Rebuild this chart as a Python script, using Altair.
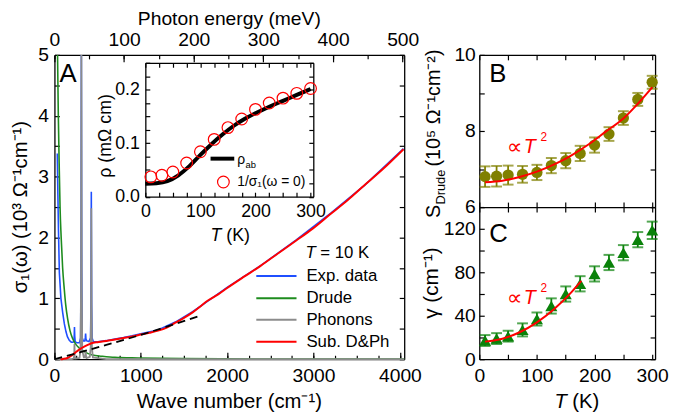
import altair as alt
import pandas as pd

# ---------------- data ----------------
# Panel A : sigma_1 (10^3 Ohm^-1 cm^-1) vs wave number (cm^-1), T = 10 K
exp_w = [33, 40, 47, 57, 75, 95, 115, 134, 150, 172, 195, 214, 224, 229, 232, 235, 240, 260, 290, 303,
         308, 312, 316, 321, 335, 352, 357, 361, 365, 375, 400, 418, 423, 427, 431, 436, 450, 500, 600, 700,
         800, 900, 1000, 1200, 1400, 1600, 1800, 2000, 2400, 2800, 3200, 3600, 4042]
exp_s = [3.38, 2.7, 2.1, 1.42, 1.0, 0.77, 0.58, 0.45, 0.37, 0.31, 0.28, 0.28, 0.29, 0.38, 0.53, 0.38, 0.29, 0.27, 0.27, 0.35,
         1.5, 5.0, 1.5, 0.35, 0.30, 0.30, 0.35, 0.42, 0.33, 0.30, 0.29, 0.35, 0.9, 2.75, 0.9, 0.35, 0.29, 0.285, 0.305, 0.33,
         0.355, 0.385, 0.42, 0.48, 0.61, 0.78, 0.98, 1.18, 1.55, 1.96, 2.40, 2.87, 3.46]

drude_w = [36, 45, 55, 65, 78, 95, 114, 130, 152, 180, 210, 250, 290, 350, 440, 550, 700, 970, 1500, 2000, 3000, 4050]
drude_s = [5.0, 4.0, 3.2, 2.5, 2.0, 1.5, 1.15, 0.9, 0.67, 0.47, 0.34, 0.24, 0.18, 0.12, 0.07, 0.05, 0.03, 0.02, 0.01, 0.006, 0.003, 0.002]

phon_w = [0, 200, 222, 229, 232, 235, 242, 290, 302, 308, 312, 316, 322, 340, 352, 357, 361, 365, 372,
          410, 420, 424, 427, 430, 434, 445, 600, 4050]
phon_s = [0, 0.0, 0.01, 0.06, 0.25, 0.06, 0.01, 0.02, 0.15, 1.2, 5.0, 1.2, 0.15, 0.03, 0.03, 0.06, 0.15, 0.06, 0.02,
          0.04, 0.2, 0.9, 2.48, 0.9, 0.2, 0.03, 0.0, 0.0]

sub_w = [70, 100, 150, 200, 250, 300, 350, 400, 450, 500, 600, 700, 800, 900, 1000, 1100, 1200, 1300, 1400, 1500,
         1600, 1700, 1773, 1900, 2000, 2200, 2383, 2600, 2800, 2994, 3200, 3400, 3566, 3800, 4042]
sub_s = [0.0, 0.005, 0.02, 0.06, 0.12, 0.17, 0.21, 0.245, 0.27, 0.28, 0.30, 0.325, 0.35, 0.375, 0.405, 0.435, 0.47, 0.52, 0.60, 0.68,
         0.77, 0.88, 0.96, 1.07, 1.17, 1.36, 1.53, 1.75, 1.95, 2.15, 2.39, 2.62, 2.83, 3.12, 3.45]

dash_w = [0, 300, 600, 1000, 1300, 1700]
dash_s = [0.0, 0.115, 0.235, 0.40, 0.535, 0.72]

# Inset : resistivity
rho_T = [0, 20, 40, 60, 80, 100, 120, 140, 160, 180, 200, 225, 250, 275, 300]
rho_v = [0.024, 0.025, 0.029, 0.040, 0.057, 0.078, 0.098, 0.116, 0.132, 0.145, 0.156, 0.168, 0.179, 0.190, 0.201]
inv_T = [10, 30, 50, 75, 100, 125, 150, 175, 200, 225, 250, 275, 300]
inv_v = [0.037, 0.040, 0.046, 0.063, 0.084, 0.107, 0.129, 0.145, 0.163, 0.175, 0.184, 0.193, 0.202]

# Panels B and C
T_pts = [10, 30, 50, 75, 100, 125, 150, 175, 200, 225, 250, 275, 300]
S_val = [6.80, 6.81, 6.84, 6.86, 6.91, 7.09, 7.22, 7.41, 7.63, 7.92, 8.34, 8.83, 9.28]
S_err = [0.27, 0.27, 0.25, 0.22, 0.20, 0.20, 0.20, 0.20, 0.20, 0.18, 0.18, 0.17, 0.17]
S_fit_T = [10, 40, 70, 100, 130, 160, 190, 220, 250, 280, 300]
S_fit_v = [6.65, 6.69, 6.79, 6.93, 7.12, 7.36, 7.65, 7.99, 8.33, 8.80, 9.15]
g_val = [17.2, 19.0, 21.2, 27.0, 37.0, 49.0, 60.0, 69.4, 78.5, 89.0, 98.0, 110.0, 118.6]
g_err = [5, 5, 5, 6, 6, 7, 7, 7, 7, 7, 7, 7, 8]
g_fit_T = [10, 40, 70, 100, 130, 160, 177]
g_fit_v = [16.2, 18.9, 24.8, 33.9, 46.2, 61.7, 72.0]

# tick labels / tick positions
wn_labels = [0, 1000, 2000, 3000, 4000]
wn_major = [0, 1000, 2000, 3000, 4000]
wn_minor = [250 * i for i in range(17)]
mev_labels = [0, 100, 200, 300, 400, 500]
mev_minor = [50 * i for i in range(11)]
sig_labels = [0, 1, 2, 3, 4, 5]
sig_ticks = [0.5 * i for i in range(11)]
in_T_labels = [0, 100, 200, 300]
in_T_ticks = [25 * i for i in range(13)]
in_r_labels = [0.0, 0.1, 0.2]
in_r_ticks = [0.025 * i for i in range(11)]
T_labels = [0, 100, 200, 300]
T_ticks = [50 * i for i in range(7)]
S_labels = [6, 8, 10]
S_ticks = [6, 7, 8, 9, 10]
g_labels = [0, 40, 80, 120]
g_ticks = [20 * i for i in range(8)]

# ---------------- layout ----------------
W, H = 669, 408
FONT = "Liberation Sans"
A_X, A_Y = [47, 401], [353, 45]
A_XD, A_YD = [0, 4050], [0, 5]
MEV_D = [0, 4050 / 8.0655]
I_X, I_Y = [139, 309], [188.5, 53]
I_XD, I_YD = [0, 305], [0, 0.25]
B_X, B_Y = [477, 654.9], [199, 45]
T_D, B_YD = [0, 305], [6, 10]
C_Y, C_YD = [353, 199], [0, 140]

BLUE, GREEN, GRAY, RED = "#1f4fff", "#1e8c1e", "#8c8c8c", "#ff0000"
OLIVE, CGREEN = "#808000", "#0a820a"

one = pd.DataFrame({"a": [0]})


def sc(dom, rng, clamp=False):
    return alt.Scale(domain=dom, range=rng, nice=False, zero=False, clamp=clamp)


def axis_layer(channel, dom, rng, orient, pos, values, labels=False, domain=False,
               tick=0, size=19.5, pad=6, fmt="d"):
    if orient in ("left", "top"):
        off = -pos
    elif orient == "right":
        off = pos - W
    else:
        off = pos - H
    kw = dict(orient=orient, offset=off, values=values, grid=False, title=None,
              labels=labels, domain=domain, labelFlush=False, labelOverlap=False,
              domainColor="black", domainWidth=1.3, tickColor="black", tickWidth=1.2)
    if tick > 0:
        kw.update(ticks=True, tickSize=tick)
    else:
        kw.update(ticks=False, tickSize=0)
    if labels:
        kw.update(labelFontSize=size, labelPadding=pad, labelFont=FONT, labelColor="black", format=fmt)
    df = pd.DataFrame({"v": dom})
    s = sc(dom, rng)
    if channel == "x":
        enc = dict(x=alt.X("v:Q", scale=s, axis=alt.Axis(**kw)))
    else:
        enc = dict(y=alt.Y("v:Q", scale=s, axis=alt.Axis(**kw)))
    return alt.Chart(df).mark_point(opacity=0).encode(**enc)


def line(xs, ys, xd, xr, yd, yr, color, width=1.6, dash=None, clamp=False, interp=None):
    df = pd.DataFrame({"x": xs, "y": ys})
    kw = dict(color=color, strokeWidth=width)
    if dash:
        kw["strokeDash"] = dash
    if interp:
        kw["interpolate"] = interp
    return alt.Chart(df).mark_line(**kw).encode(
        x=alt.X("x:Q", scale=sc(xd, xr), axis=None),
        y=alt.Y("y:Q", scale=sc(yd, yr, clamp), axis=None))


def txt(s, x, y, size, angle=0, align="left", baseline="alphabetic", italic=False, color="black", font=FONT):
    kw = dict(text=s, fontSize=size, font=font, align=align, baseline=baseline, color=color)
    if angle:
        kw["angle"] = angle
    if italic:
        kw["fontStyle"] = "italic"
    return alt.Chart(one).mark_text(**kw).encode(x=alt.value(x), y=alt.value(y))


def seg(x1, x2, y, color, width, dash=None):
    kw = dict(color=color, strokeWidth=width)
    if dash:
        kw["strokeDash"] = dash
    return alt.Chart(one).mark_rule(**kw).encode(x=alt.value(x1), x2=alt.value(x2), y=alt.value(y))


def errbars(T, v, e, yd, yr, color, shape, size):
    df = pd.DataFrame({"T": T, "v": v, "lo": [a - b for a, b in zip(v, e)], "hi": [a + b for a, b in zip(v, e)]})
    xs = sc(T_D, B_X)
    ys = sc(yd, yr)
    base = alt.Chart(df)
    rule = base.mark_rule(color=color, strokeWidth=1.8).encode(
        x=alt.X("T:Q", scale=xs, axis=None), y=alt.Y("lo:Q", scale=ys, axis=None), y2="hi:Q")
    cap1 = base.mark_tick(color=color, orient="horizontal", size=11, thickness=2).encode(
        x=alt.X("T:Q", scale=xs, axis=None), y=alt.Y("lo:Q", scale=ys, axis=None))
    cap2 = base.mark_tick(color=color, orient="horizontal", size=11, thickness=2).encode(
        x=alt.X("T:Q", scale=xs, axis=None), y=alt.Y("hi:Q", scale=ys, axis=None))
    pts = base.mark_point(shape=shape, filled=True, size=size, color=color, opacity=1).encode(
        x=alt.X("T:Q", scale=xs, axis=None), y=alt.Y("v:Q", scale=ys, axis=None))
    return [rule, cap1, cap2, pts]


layers = []

# ---- Panel A axes ----
layers += [
    axis_layer("x", A_XD, A_X, "bottom", 353, wn_labels, labels=True, domain=True, pad=8),
    axis_layer("x", A_XD, A_X, "top", 353, wn_minor, tick=4),
    axis_layer("x", A_XD, A_X, "top", 353, wn_major, tick=7),
    axis_layer("x", MEV_D, A_X, "top", 45, mev_labels, labels=True, domain=True, pad=6),
    axis_layer("x", MEV_D, A_X, "bottom", 45, mev_minor, tick=4),
    axis_layer("x", MEV_D, A_X, "bottom", 45, mev_labels, tick=7),
    axis_layer("y", A_YD, A_Y, "left", 47, sig_labels, labels=True, domain=True, pad=6),
    axis_layer("y", A_YD, A_Y, "right", 47, sig_ticks, tick=5),
    axis_layer("y", A_YD, A_Y, "left", 401, sig_ticks, tick=5, domain=True),
]

# ---- Panel A data ----
layers += [
    line(exp_w, exp_s, A_XD, A_X, A_YD, A_Y, BLUE, 1.6, clamp=True),
    line(drude_w, drude_s, A_XD, A_X, A_YD, A_Y, GREEN, 1.6, clamp=True, interp="monotone"),
    line(phon_w, phon_s, A_XD, A_X, A_YD, A_Y, GRAY, 1.8, clamp=True),
    line(sub_w, sub_s, A_XD, A_X, A_YD, A_Y, RED, 2.0, clamp=True, interp="monotone"),
    line(dash_w, dash_s, A_XD, A_X, A_YD, A_Y, "black", 1.8, dash=[8, 5], interp="monotone"),
]

# ---- Inset ----
layers += [
    axis_layer("x", I_XD, I_X, "bottom", 188.5, in_T_labels, labels=True, domain=True, size=18, pad=6),
    axis_layer("x", I_XD, I_X, "top", 188.5, in_T_ticks, tick=4.5),
    axis_layer("x", I_XD, I_X, "bottom", 53, in_T_ticks, tick=4.5, domain=True),
    axis_layer("y", I_YD, I_Y, "left", 139, in_r_labels, labels=True, domain=True, size=18, pad=6, fmt=".1f"),
    axis_layer("y", I_YD, I_Y, "right", 139, in_r_ticks, tick=4.5),
    axis_layer("y", I_YD, I_Y, "left", 309, in_r_ticks, tick=4.5, domain=True),
    line(rho_T, rho_v, I_XD, I_X, I_YD, I_Y, "black", 4, interp="monotone"),
    alt.Chart(pd.DataFrame({"T": inv_T, "r": inv_v})).mark_point(
        shape="circle", filled=False, size=140, color=RED, strokeWidth=1.2, opacity=1).encode(
        x=alt.X("T:Q", scale=sc(I_XD, I_X), axis=None),
        y=alt.Y("r:Q", scale=sc(I_YD, I_Y), axis=None)),
]

# ---- Panel B ----
layers += [
    axis_layer("x", T_D, B_X, "top", 199, T_ticks, tick=5, domain=True),
    axis_layer("x", T_D, B_X, "bottom", 45, T_ticks, tick=5, domain=True),
    axis_layer("y", B_YD, B_Y, "left", 477, S_labels, labels=True, domain=True, pad=4),
    axis_layer("y", B_YD, B_Y, "right", 477, S_ticks, tick=5),
    axis_layer("y", B_YD, B_Y, "left", 654.9, S_ticks, tick=5, domain=True),
]
layers += errbars(T_pts, S_val, S_err, B_YD, B_Y, OLIVE, "circle", 130)
layers.append(line(S_fit_T, S_fit_v, T_D, B_X, B_YD, B_Y, RED, 2.0, interp="monotone"))

# ---- Panel C ----
layers += [
    axis_layer("x", T_D, B_X, "bottom", 353, T_labels, labels=True, domain=True, pad=8),
    axis_layer("x", T_D, B_X, "top", 353, T_ticks, tick=5),
    axis_layer("x", T_D, B_X, "bottom", 199, T_ticks, tick=5),
    axis_layer("y", C_YD, C_Y, "left", 477, g_labels, labels=True, domain=True, pad=4),
    axis_layer("y", C_YD, C_Y, "right", 477, g_ticks, tick=5),
    axis_layer("y", C_YD, C_Y, "left", 654.9, g_ticks, tick=5, domain=True),
]
layers += errbars(T_pts, g_val, g_err, C_YD, C_Y, CGREEN, "triangle-up", 150)
layers.append(line(g_fit_T, g_fit_v, T_D, B_X, C_YD, C_Y, RED, 2.0, interp="monotone"))

# ---- Texts: titles ----
layers += [
    txt("Photon energy (meV)", 224, 15, 19.5, align="center"),
    txt("Wave number (cm\u207b\u00b9)", 224, 402, 20.5, align="center"),
    txt("\u03c3\u2081(\u03c9) (10\u00b3 \u03a9\u207b\u00b9cm\u207b\u00b9)", 19, 199, 20.5, angle=270, align="center"),
    txt("\u03c1 (m\u03a9 cm)", 104, 127, 18, angle=270, align="center"),
    txt("T", 205, 233, 18, italic=True),
    txt("(K)", 221, 233, 18),
    txt("S", 437, 210, 20, angle=270),
    txt("Drude", 442, 196.5, 13, angle=270),
    txt("(10\u2075 \u03a9\u207b\u00b9cm\u207b\u00b2)", 437, 158, 20, angle=270),
    txt("\u03b3 (cm\u207b\u00b9)", 435, 276, 21, angle=270, align="center"),
    txt("T", 553, 402, 20.5, italic=True),
    txt("(K)", 571, 402, 20.5),
    # panel letters
    txt("A", 52, 72, 26),
    txt("B", 487, 72, 26),
    txt("C", 487, 234, 26),
    # proportional-to labels
    txt("\u221d", 505, 145, 22, color=RED, font="DejaVu Sans"),
    txt("T", 522, 144, 20, italic=True, color=RED),
    txt("2", 539, 132, 12, color=RED),
    txt("\u221d", 505, 298, 22, color=RED, font="DejaVu Sans"),
    txt("T", 522, 297, 20, italic=True, color=RED),
    txt("2", 539, 285, 12, color=RED),
]

# ---- Main legend ----
leg_items = [("Exp. data", BLUE), ("Drude", GREEN), ("Phonons", GRAY), ("Sub. D&Ph", RED)]
leg_y = [268.7, 291.3, 313, 335.3]
layers += [txt("T", 301, 251, 17, italic=True), txt("= 10 K", 316, 251, 17)]
for (lab, col), yy in zip(leg_items, leg_y):
    layers.append(seg(251.3, 292, yy, col, 2))
    layers.append(txt(lab, 302, yy, 17, baseline="middle"))

# ---- Inset legend ----
layers += [
    seg(205, 229, 150, "black", 4),
    txt("\u03c1", 232, 155, 14),
    txt("ab", 240.5, 159, 9.5),
    alt.Chart(one).mark_point(shape="circle", filled=False, size=140, color=RED, strokeWidth=1.2, opacity=1).encode(
        x=alt.value(218), y=alt.value(173.7)),
    txt("1/\u03c3\u2081(\u03c9 = 0)", 232, 173.7, 14, baseline="middle"),
]

chart = alt.layer(*layers).resolve_scale(x="independent", y="independent").properties(
    width=W, height=H, autosize=alt.AutoSizeParams(type="none"), padding=0
).configure_view(stroke=None).configure_axis(labelFont=FONT, grid=False)

chart.save("out.html", embed_options={"renderer": "svg", "actions": False})
